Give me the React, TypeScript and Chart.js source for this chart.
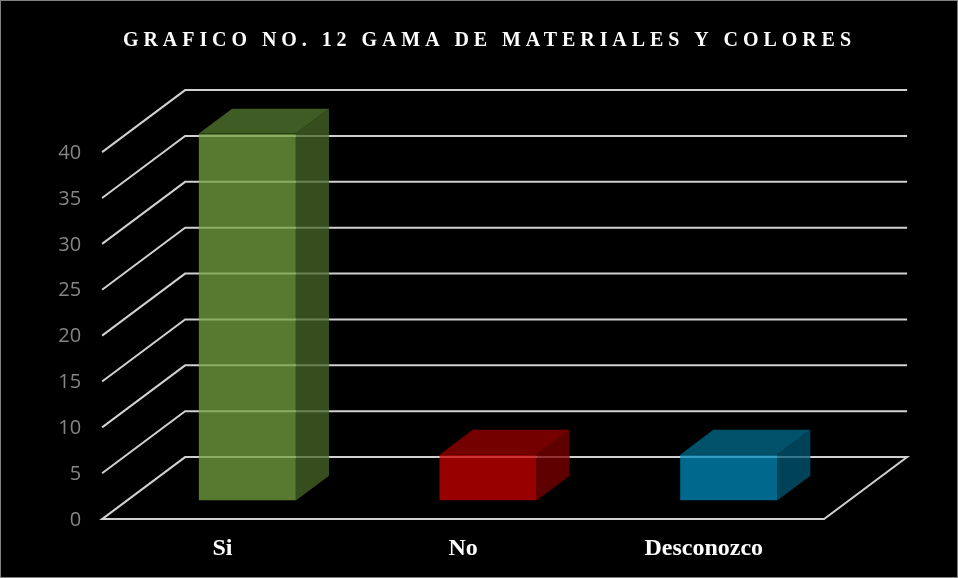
import React, { useEffect, useRef } from "react";
import { Chart, registerables } from "chart.js";

Chart.register(...registerables);

const titleText = "GRAFICO NO. 12 GAMA DE MATERIALES Y COLORES";
const categories = ["Si", "No", "Desconozco"];
const values = [40, 5, 5];
const yTicks = [0, 5, 10, 15, 20, 25, 30, 35, 40];

const frontColors = ["rgba(118,163,64,0.75)", "rgba(203,0,0,0.75)", "rgba(0,139,187,0.75)"];
const topColors = ["rgba(83,123,47,0.75)", "rgba(155,0,0,0.75)", "rgba(0,108,142,0.75)"];
const sideColors = ["rgba(72,104,40,0.75)", "rgba(127,0,0,0.75)", "rgba(0,88,116,0.75)"];

const DX = 83;
const DY = -62;
const F_FRONT = 0.3; // bar plane depth from front
const F_BACK = 0.7; // back wall depth from bar plane
const BAR_DEPTH = 0.4;

const threeD = {
  id: "threeD",
  beforeDraw(chart: any) {
    const ctx = chart.ctx;
    ctx.save();
    ctx.fillStyle = "#000";
    ctx.fillRect(0, 0, chart.width, chart.height);
    ctx.strokeStyle = "#808080";
    ctx.lineWidth = 1;
    ctx.strokeRect(0.5, 0.5, chart.width - 1, chart.height - 1);
    ctx.restore();
  },
  beforeDatasetsDraw(chart: any) {
    const ctx = chart.ctx;
    const ys = chart.scales.y;
    const xs = chart.scales.x;
    const area = chart.chartArea;
    const bx = F_BACK * DX, by = F_BACK * DY;
    const fx = -F_FRONT * DX, fy = -F_FRONT * DY;
    ctx.save();
    ctx.strokeStyle = "#d0d0d0";
    ctx.lineWidth = 2;
    ctx.lineJoin = "miter";
    yTicks.forEach((v) => {
      const py = ys.getPixelForValue(v);
      ctx.beginPath();
      ctx.moveTo(area.left + fx, py + fy);
      ctx.lineTo(area.left + bx, py + by);
      ctx.lineTo(area.right + bx, py + by);
      if (v === 0) {
        ctx.lineTo(area.right + fx, py + fy);
        ctx.closePath();
      }
      ctx.stroke();
    });
    // y labels
    ctx.fillStyle = "#858585";
    ctx.font = '20px "Open Sans"';
    ctx.textAlign = "right";
    ctx.textBaseline = "middle";
    yTicks.forEach((v) => {
      const py = ys.getPixelForValue(v) + fy + 1;
      ctx.fillText(String(v), area.left + fx - 21, py);
    });
    // x labels
    ctx.fillStyle = "#ffffff";
    ctx.font = 'bold 24px "Liberation Serif"';
    ctx.textAlign = "center";
    ctx.textBaseline = "alphabetic";
    categories.forEach((c, i) => {
      const px = xs.getPixelForValue(i) + fx;
      ctx.fillText(c, px, 555);
    });
    // title
    ctx.font = 'bold 20px "Liberation Serif"';
    ctx.textAlign = "left";
    (ctx as any).letterSpacing = "0px";
    const w0 = ctx.measureText(titleText).width;
    const sp = (728 - w0) / (titleText.length - 1);
    (ctx as any).letterSpacing = sp + "px";
    ctx.fillText(titleText, 123, 46);
    (ctx as any).letterSpacing = "0px";
    ctx.restore();
  },
  afterDatasetsDraw(chart: any) {
    const ctx = chart.ctx;
    const meta = chart.getDatasetMeta(0);
    const ddx = BAR_DEPTH * DX, ddy = BAR_DEPTH * DY;
    ctx.save();
    meta.data.forEach((bar: any, i: number) => {
      const p = bar.getProps(["x", "y", "base", "width"], true);
      const L = p.x - p.width / 2;
      const R = p.x + p.width / 2;
      const T = p.y;
      const B = p.base;
      ctx.fillStyle = topColors[i];
      ctx.beginPath();
      ctx.moveTo(L, T);
      ctx.lineTo(R, T);
      ctx.lineTo(R + ddx, T + ddy);
      ctx.lineTo(L + ddx, T + ddy);
      ctx.closePath();
      ctx.fill();
      ctx.fillStyle = sideColors[i];
      ctx.beginPath();
      ctx.moveTo(R, T);
      ctx.lineTo(R + ddx, T + ddy);
      ctx.lineTo(R + ddx, B + ddy);
      ctx.lineTo(R, B);
      ctx.closePath();
      ctx.fill();
    });
    ctx.restore();
  },
};

export default function App() {
  const ref = useRef<HTMLCanvasElement | null>(null);
  useEffect(() => {
    if (!ref.current) return;
    const chart = new Chart(ref.current, {
      type: "bar",
      data: {
        labels: categories,
        datasets: [
          {
            data: values,
            backgroundColor: frontColors,
            borderWidth: 0,
            barPercentage: 0.403,
            categoryPercentage: 1,
          },
        ],
      },
      options: {
        animation: false,
        responsive: false,
        devicePixelRatio: 1,
        layout: { padding: { left: 127, right: 109, top: 133.5, bottom: 77.5 } },
        scales: {
          x: { display: false, offset: true },
          y: { display: false, min: 0, max: 40, ticks: { stepSize: 5 } },
        },
        plugins: {
          legend: { display: false },
          tooltip: { enabled: false },
          title: { display: false },
        },
      },
      plugins: [threeD],
    } as any);
    return () => chart.destroy();
  }, []);
  return (
    <div style={{ position: "absolute", left: 0, top: 0, width: 958, height: 578 }}>
      <canvas ref={ref} width={958} height={578} style={{ display: "block", width: 958, height: 578 }} />
    </div>
  );
}
